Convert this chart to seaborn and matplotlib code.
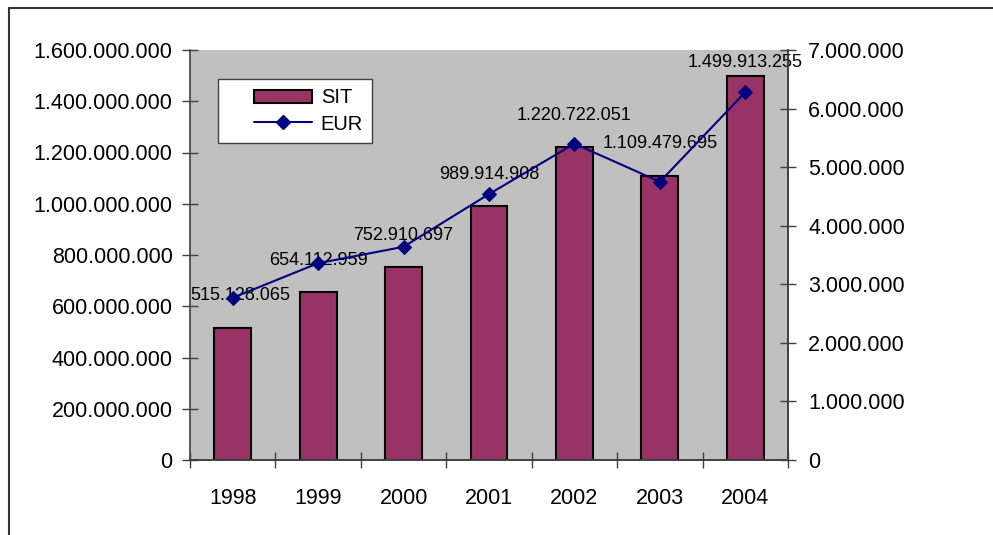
import matplotlib
matplotlib.use("Agg")
import numpy as np
import matplotlib.pyplot as plt
from matplotlib.ticker import FuncFormatter, FixedLocator
from matplotlib.lines import Line2D
from matplotlib.patches import Patch, Rectangle
from matplotlib.legend_handler import HandlerPatch, HandlerLine2D
import seaborn as sns

years = ['1998', '1999', '2000', '2001', '2002', '2003', '2004']
sit = [515128065, 654112959, 752910697, 989914908, 1220722051, 1109479695, 1499913255]
eur = [2770000, 3360000, 3640000, 4540000, 5400000, 4750000, 6280000]
sit_labels = ['515.128.065', '654.112.959', '752.910.697', '989.914.908',
              '1.220.722.051', '1.109.479.695', '1.499.913.255']

BAR_COL = '#993366'
LINE_COL = '#000080'
AX_COL = '#404040'
SKIP = 0.32  # blank part on the left of legend handles


def dots(v, pos=None):
    return f"{v:,.0f}".replace(",", ".")


def shifted_patch(legend, orig_handle, xdescent, ydescent, width, height, fontsize):
    x0 = -xdescent + width * SKIP
    h = height * 0.8
    return Rectangle((x0, -ydescent + (height - h) / 2), width * (1 - SKIP), h)


class ShiftedLine(HandlerLine2D):
    def get_xdata(self, legend, xdescent, ydescent, width, height, fontsize):
        x0 = -xdescent + width * SKIP
        x1 = -xdescent + width
        return np.array([x0, x1]), np.array([(x0 + x1) / 2])


def main():
    sns.set_theme(style='white')
    plt.rcParams['font.family'] = ['Liberation Sans', 'DejaVu Sans']
    plt.rcParams['text.color'] = 'black'

    fig = plt.figure(figsize=(9.93, 5.35), dpi=100)
    ax = fig.add_axes([190/993, 1-460/535, 598/993, 410/535])
    ax.set_facecolor('#C0C0C0')

    sns.barplot(x=years, y=sit, color=BAR_COL, saturation=1, width=0.43,
                edgecolor='black', linewidth=1.5, ax=ax)
    ax.set_xlim(-0.5, len(years) - 0.5)
    ax.set_ylim(0, 1.6e9)
    ax.set_yticks([i * 2e8 for i in range(9)])
    ax.yaxis.set_major_formatter(FuncFormatter(dots))

    ax2 = ax.twinx()
    sns.lineplot(x=list(range(len(years))), y=eur, color=LINE_COL, lw=1.5,
                 marker='D', markersize=7, markeredgecolor=LINE_COL, ax=ax2)
    ax2.set_ylim(0, 7e6)
    ax2.set_yticks([i * 1e6 for i in range(8)])
    ax2.yaxis.set_major_formatter(FuncFormatter(dots))

    # value labels above bars, kept inside the plot area
    for i, (v, lab) in enumerate(zip(sit, sit_labels)):
        y = min(v + 1.25e8, 1.553e9)
        if i == 0:
            ax.text(-0.5, y, lab, ha='left', va='center', fontsize=13,
                    color='black', zorder=5)
        else:
            ax.text(i, y, lab, ha='center', va='center', fontsize=13,
                    color='black', zorder=5)

    for a in (ax, ax2):
        for s in a.spines.values():
            s.set_color(AX_COL)
            s.set_linewidth(1.2)
        a.spines['top'].set_visible(False)
        a.set_xlabel('')
        a.set_ylabel('')
    ax2.spines['left'].set_visible(False)

    ax.tick_params(axis='y', direction='inout', length=11, width=1, color=AX_COL,
                   labelsize=15.5, labelcolor='black', pad=7, left=True)
    ax2.tick_params(axis='y', direction='inout', length=11, width=1, color=AX_COL,
                    labelsize=15.5, labelcolor='black', pad=9, right=True)
    # year labels at bar centers, tick marks at category boundaries
    ax.tick_params(axis='x', which='major', length=0, labelsize=15.5,
                   labelcolor='black', pad=20)
    ax.xaxis.set_minor_locator(FixedLocator([i - 0.5 for i in range(len(years) + 1)]))
    ax.tick_params(axis='x', which='minor', direction='inout', length=12, width=1,
                   color=AX_COL, bottom=True)
    ax2.tick_params(axis='x', bottom=False, top=False, labelbottom=False)

    handles = [Patch(facecolor=BAR_COL, edgecolor='black', linewidth=1.5),
               Line2D([], [], color=LINE_COL, lw=1.5, marker='D', markersize=7)]
    leg = ax2.legend(handles, ['SIT', 'EUR'], loc='upper left',
                     bbox_to_anchor=(0.047, 0.929), borderaxespad=0, frameon=True,
                     fancybox=False, shadow=False, fontsize=14.5, handlelength=4.2,
                     handleheight=0.9, borderpad=0.45, labelspacing=0.35,
                     handletextpad=0.45,
                     handler_map={Patch: HandlerPatch(patch_func=shifted_patch),
                                  Line2D: ShiftedLine()})
    leg.get_frame().set_edgecolor(AX_COL)
    leg.get_frame().set_linewidth(1)
    leg.get_frame().set_facecolor('white')
    leg.get_frame().set_alpha(1)

    # outer chart frame
    fig.add_artist(Line2D([9/993, 9/993], [0, 1-8/535], color='#333333', lw=1.5))
    fig.add_artist(Line2D([9/993, 1], [1-8/535, 1-8/535], color='#333333', lw=1.5))

    fig.savefig('out.png', dpi=100)


if __name__ == "__main__":
    main()
